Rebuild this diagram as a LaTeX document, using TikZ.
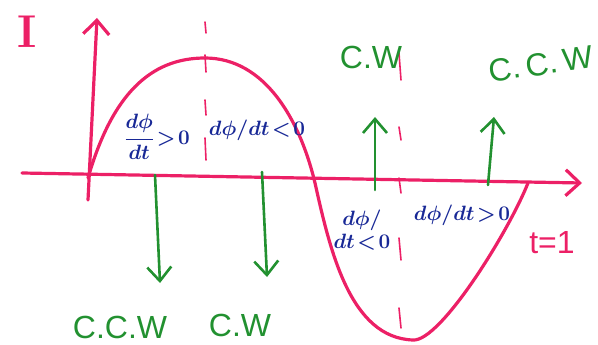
\documentclass[tikz,border=0pt]{standalone}
\usepackage{amsmath}
\usepackage[no-math]{fontspec}
\setmainfont{Liberation Sans}
\newfontfamily\serifpen{Latin Modern Roman}
\usetikzlibrary{arrows.meta}

\definecolor{penred}{RGB}{236,32,102}
\definecolor{pengreen}{RGB}{34,145,48}
\definecolor{penblue}{RGB}{24,40,150}

\begin{document}
\begin{tikzpicture}[
    x=1pt, y=-1pt,
    axis/.style={penred, line width=3.2pt, line cap=round, -{Straight Barb[length=14pt,width=26pt]}},
    wave/.style={penred, line width=3.2pt, line cap=round},
    tick/.style={penred, line width=1.6pt, line cap=round},
    garrow/.style={pengreen, line width=2.6pt, line cap=round, -{Straight Barb[length=14pt,width=24pt]}},
    glabel/.style={pengreen, inner sep=0pt, font=\fontsize{32}{32}\selectfont},
    blabel/.style={penblue, inner sep=0pt, font=\fontsize{22}{23}\selectfont\boldmath, align=center},
    rlabel/.style={penred, inner sep=0pt, font=\fontsize{32}{32}\selectfont}
]
\useasboundingbox (0,0) rectangle (598,345);

% ---------- Axes ----------
\coordinate (orig) at (88,178);
\coordinate (ybot) at (88,200);
\coordinate (ytop) at (97,18);
\coordinate (xleft) at (22,173);
\coordinate (xright) at (582,183);
\draw[axis] (ybot) -- (ytop);
\draw[axis] (xleft) -- (xright);
\node[rlabel, font=\fontsize{46}{46}\selectfont\serifpen\bfseries] (cur) at (27,32) {I};
\node[rlabel] (tend) at (552,243) {t=1};

% ---------- Current wave ----------
\coordinate (peak) at (205,58);
\coordinate (zero) at (315,183);
\coordinate (trough) at (413,340);
\coordinate (tone) at (528,183);
\draw[wave] (orig) .. controls (112,95) and (150,58) .. (peak)
    .. controls (265,58) and (300,120) .. (zero)
    .. controls (330,250) and (350,338) .. (trough)
    .. controls (440,342) and (508,233) .. (tone);

% quarter period marks
\foreach \ya/\yb in {22/33,55/72,100/115,138/160}
    \draw[tick] (205,\ya) -- (206,\yb);
\foreach \ya/\yb in {53/80,127/140,178/193,238/260,308/328}
    \draw[tick] (399,\ya) -- (401,\yb);

% ---------- Rate of change ----------
\node[blabel] (rise1) at (157,137) {$\dfrac{d\phi}{dt}\!>\!0$};
\node[blabel] (fall1) at (257,130) {$d\phi/dt\!<\!0$};
\node[blabel] (fall2) at (362,230) {$d\phi/$\\$dt\!<\!0$};
\node[blabel] (rise2) at (462,215) {$d\phi/dt\!>\!0$};

% ---------- Induced current direction ----------
\coordinate (d1s) at (155,175);
\coordinate (d1e) at (160,283);
\coordinate (d2s) at (262,172);
\coordinate (d2e) at (267,277);
\coordinate (u1s) at (375,190);
\coordinate (u1e) at (375,117);
\coordinate (u2s) at (488,185);
\coordinate (u2e) at (494,117);
\draw[garrow] (d1s) -- (d1e);
\draw[garrow] (d2s) -- (d2e);
\draw[garrow] (u1s) -- (u1e);
\draw[garrow] (u2s) -- (u2e);

\node[glabel] (ccwA) at (120,327) {C.C.W};
\node[glabel] (cwA) at (240,325) {C.W};
\node[glabel] (cwB) at (371,57) {C.W};
\node[glabel, rotate=8] (ccwB) at (541,64) {C.\,C.\,W};

\end{tikzpicture}
\end{document}
